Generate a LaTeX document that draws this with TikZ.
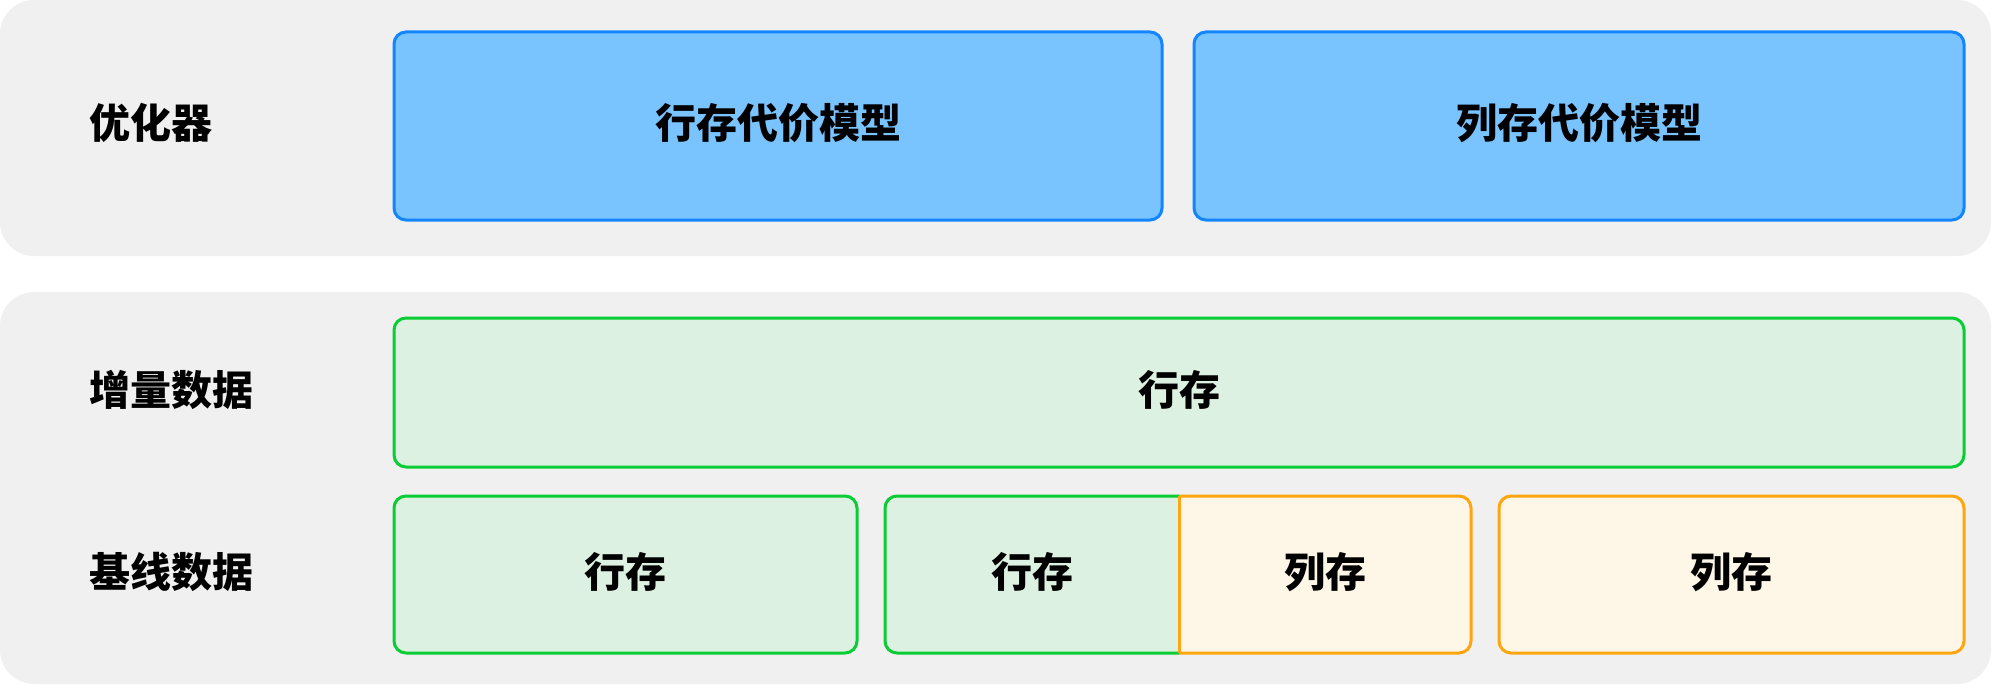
\documentclass[tikz,border=0pt]{standalone}
\usepackage{fontspec}
\setmainfont{Noto Sans CJK SC}
\definecolor{panelc}{HTML}{F0F0F0}
\definecolor{bluef}{HTML}{79C3FF}
\definecolor{blued}{HTML}{1385FF}
\definecolor{greenf}{HTML}{DDF1E2}
\definecolor{greend}{HTML}{0ACC34}
\definecolor{orangef}{HTML}{FEF6E6}
\definecolor{oranged}{HTML}{FFA510}
\begin{document}
\begin{tikzpicture}[x=1pt,y=-1pt,
  txt/.style={font=\fontsize{41}{45}\selectfont\bfseries, text=black, inner sep=0pt},
  panel/.style={fill=panelc, rounded corners=34pt},
  bluebox/.style={fill=bluef, draw=blued, line width=3pt, rounded corners=12pt},
  greenbox/.style={fill=greenf, draw=greend, line width=3pt, rounded corners=12pt},
  orangebox/.style={fill=orangef, draw=oranged, line width=3pt, rounded corners=12pt},
  lbl/.style={txt, anchor=west}]
\useasboundingbox (0,0) rectangle (1992,685);
% panels
\fill[panel] (0,0) rectangle (1991,256);
\fill[panel] (0,292) rectangle (1991,684);
% optimizer row
\node[lbl] (lopt) at (89,123) {优化器};
\draw[bluebox] (394,32) rectangle (1162,220);
\node[txt] (rowcost) at (778,123) {行存代价模型};
\draw[bluebox] (1194,32) rectangle (1964,220);
\node[txt] (colcost) at (1579,123) {列存代价模型};
% incremental data
\node[lbl] (linc) at (89,390) {增量数据};
\draw[greenbox] (394,318) rectangle (1964,467);
\node[txt] (incrow) at (1179,390) {行存};
% baseline data
\node[lbl] (lbase) at (89,572) {基线数据};
\draw[greenbox] (394,496) rectangle (857,653);
\node[txt] (b1) at (625,572) {行存};
% split box
\begin{scope}
  \clip (880,480) rectangle (1179,670);
  \draw[greenbox] (885,496) rectangle (1471,653);
\end{scope}
\begin{scope}
  \clip (1179,480) rectangle (1480,670);
  \draw[orangebox] (885,496) rectangle (1471,653);
\end{scope}
\draw[draw=oranged, line width=3pt] (1179,496) -- (1179,653);
\node[txt] (b2l) at (1032,572) {行存};
\node[txt] (b2r) at (1325,572) {列存};
\draw[orangebox] (1499,496) rectangle (1964,653);
\node[txt] (b3) at (1731,572) {列存};
\end{tikzpicture}
\end{document}
